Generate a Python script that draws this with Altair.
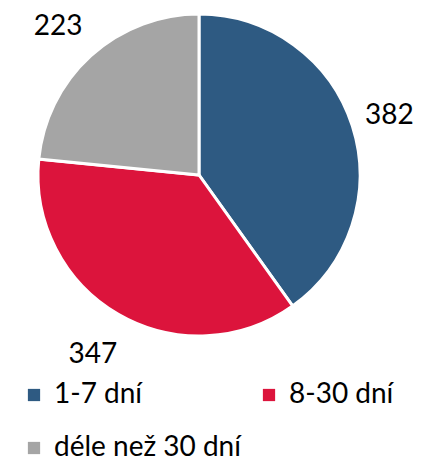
import altair as alt
import pandas as pd

categories = ["1-7 dní", "8-30 dní", "déle než 30 dní"]
values = [382, 347, 223]
colors = ["#2E5A82", "#DC143C", "#A5A5A5"]

df = pd.DataFrame({"kat": categories, "pocet": values, "poradi": [0, 1, 2]})

CX, CY = 191, 167

base = alt.Chart(df).encode(
    theta=alt.Theta("pocet:Q", stack=True),
    order=alt.Order("poradi:Q"),
)

pie = base.mark_arc(outerRadius=161, stroke="white", strokeWidth=3).encode(
    x=alt.value(CX),
    y=alt.value(CY),
    color=alt.Color(
        "kat:N",
        scale=alt.Scale(domain=categories, range=colors),
        legend=alt.Legend(
            title=None,
            orient="none",
            direction="horizontal",
            legendX=12,
            legendY=373,
            columns=2,
            symbolType="square",
            symbolSize=150,
            symbolStrokeWidth=0,
            labelFontSize=28,
            labelFont="Lato",
            labelColor="black",
            labelOffset=6,
            columnPadding=14,
            rowPadding=25,
            labelLimit=400,
        ),
    ),
)

labels = base.mark_text(radius=204, dx=-4, dy=3, fontSize=28, font="Lato", color="black").encode(
    x=alt.value(CX),
    y=alt.value(CY),
    text=alt.Text("pocet:Q"),
)

chart = (
    alt.layer(pie, labels)
    .properties(width=405, height=450, padding=0, autosize=alt.AutoSizeParams(type="none"))
    .configure_view(stroke=None)
)

chart.save("out.html", embed_options={"renderer": "svg", "actions": False})
